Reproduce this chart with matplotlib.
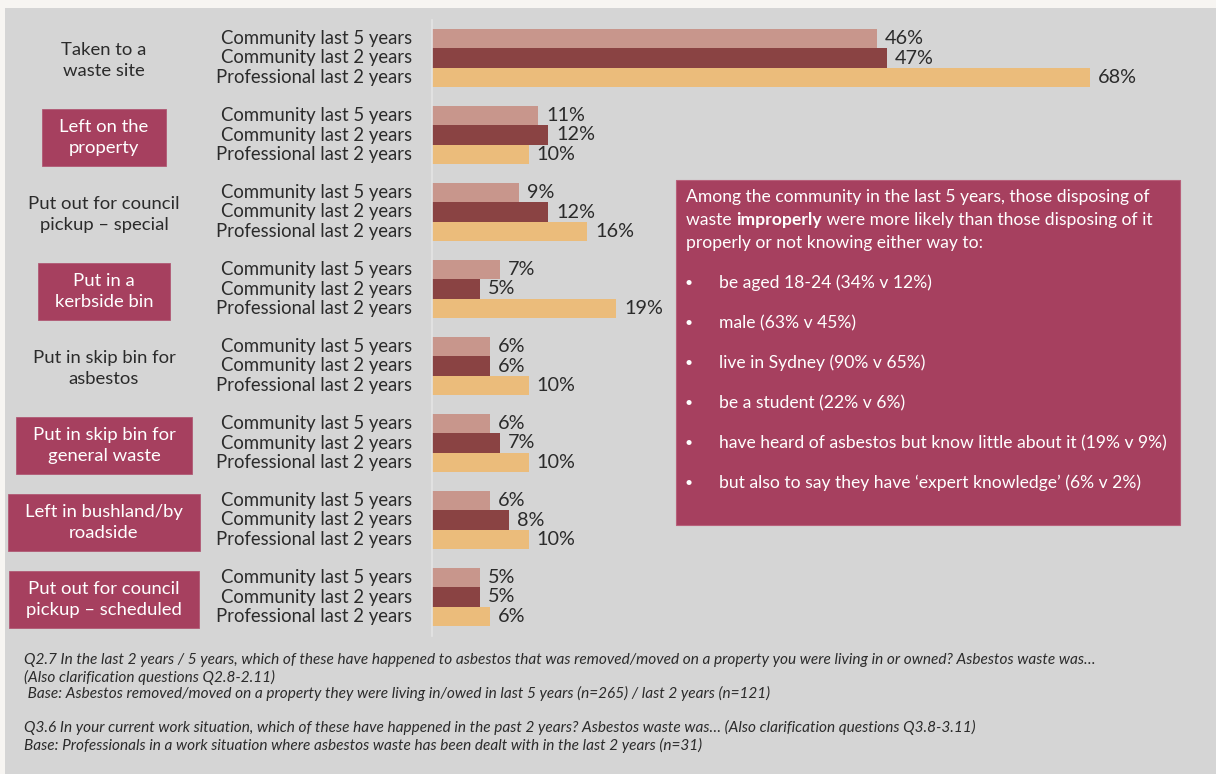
import matplotlib
matplotlib.use("Agg")
import matplotlib.pyplot as plt
import matplotlib.transforms as mtransforms
from matplotlib.patches import Rectangle

plt.rcParams['font.family'] = ['Lato', 'DejaVu Sans']

# disposal methods, top to bottom
categories = ["Taken to a\nwaste site", "Left on the\nproperty", "Put out for council\npickup – special",
              "Put in a\nkerbside bin", "Put in skip bin for\nasbestos", "Put in skip bin for\ngeneral waste",
              "Left in bushland/by\nroadside", "Put out for council\npickup – scheduled"]
highlighted = [False, True, False, True, False, True, True, True]

series_names = ["Community last 5 years", "Community last 2 years", "Professional last 2 years"]
community_5y = [46, 11, 9, 7, 6, 6, 6, 5]
community_2y = [47, 12, 12, 5, 6, 7, 8, 5]
professional_2y = [68, 10, 16, 19, 10, 10, 10, 6]
series_colors = ["#c8968c", "#8a4343", "#ebbc7b"]

callout_intro = ["Among the community in the last 5 years, those disposing of",
                 ("waste ", "improperly", " were more likely than those disposing of it"),
                 "properly or not knowing either way to:"]
callout_points = ["be aged 18-24 (34% v 12%)", "male (63% v 45%)", "live in Sydney (90% v 65%)",
                  "be a student (22% v 6%)", "have heard of asbestos but know little about it (19% v 9%)",
                  "but also to say they have \u2018expert knowledge\u2019 (6% v 2%)"]

footnotes = ["Q2.7 In the last 2 years / 5 years, which of these have happened to asbestos that was removed/moved on a property you were living in or owned? Asbestos waste was\u2026",
             "(Also clarification questions Q2.8-2.11)",
             " Base: Asbestos removed/moved on a property they were living in/owed in last 5 years (n=265) / last 2 years (n=121)",
             "Q3.6 In your current work situation, which of these have happened in the past 2 years? Asbestos waste was\u2026 (Also clarification questions Q3.8-3.11)",
             "Base: Professionals in a work situation where asbestos waste has been dealt with in the last 2 years (n=31)"]

W, H = 1216, 774
dark = "#2b2b2b"
crimson = "#a6405f"

fig = plt.figure(figsize=(W / 100, H / 100), dpi=100, facecolor="#f7f5f2")
renderer = fig.canvas.get_renderer()


def fx(px):
    return px / W


def fy(py):
    return 1 - py / H


# grey panel behind everything
fig.patches.append(Rectangle((fx(5), 0), 1 - fx(5), fy(8), transform=fig.transFigure,
                             facecolor="#d5d5d5", edgecolor="none", zorder=-5))

ax = fig.add_axes([fx(432), fy(635.5), 1 - fx(432), (635.5 - 19.5) / H])
ax.set_facecolor("none")
ax.set_xlim(0, 81)
ax.set_ylim(len(categories) - 0.5, -0.5)
for s in ["top", "right", "bottom"]:
    ax.spines[s].set_visible(False)
ax.spines["left"].set_color("#e4e4e4")
ax.spines["left"].set_linewidth(1.2)
ax.set_xticks([])
ax.set_yticks([])

bar_h = 0.25
all_series = [community_5y, community_2y, professional_2y]
label_tr = mtransforms.blended_transform_factory(fig.transFigure, ax.transData)
for i, cat in enumerate(categories):
    for k, vals in enumerate(all_series):
        y = i + (k - 1) * bar_h
        ax.barh(y, vals[i], height=bar_h, color=series_colors[k], edgecolor="none")
        ax.annotate(f"{vals[i]}%", (vals[i], y), xytext=(8, 0), textcoords="offset pixels",
                    ha="left", va="center", fontsize=14.3, color=dark)
        ax.text(fx(412), y, series_names[k], transform=label_tr, ha="right", va="center",
                fontsize=13.35, color=dark)
    t = ax.annotate(cat, (fx(104), i), xycoords=label_tr, xytext=(0, -2.5), textcoords="offset pixels",
                    ha="center", va="center", fontsize=13.3,
                    color="white" if highlighted[i] else dark, linespacing=1.4, zorder=3)
    if highlighted[i]:
        # boxed label: fixed height, text width plus side padding
        bb = t.get_window_extent(renderer=renderer)
        cx, cy = (bb.x0 + bb.x1) / 2, (bb.y0 + bb.y1) / 2
        bw, bh = bb.width + 34, 57
        fig.patches.append(Rectangle(((cx - bw / 2) / W, (cy - bh / 2) / H), bw / W, bh / H,
                                     transform=fig.transFigure, facecolor=crimson,
                                     edgecolor="#b05a74", linewidth=0.6, zorder=-1))

# callout panel
fig.patches.append(Rectangle((fx(676), fy(525)), fx(1180) - fx(676), (525 - 180) / H,
                             transform=fig.transFigure, facecolor=crimson, edgecolor="#b8607a",
                             linewidth=0.8, zorder=1))
fs_call = 12.6
ty = 197
for line in callout_intro:
    if isinstance(line, tuple):
        x = fx(686)
        for part, weight in zip(line, ["normal", "bold", "normal"]):
            t = fig.text(x, fy(ty), part, ha="left", va="center", fontsize=fs_call,
                         color="white", fontweight=weight, zorder=2)
            bb = t.get_window_extent(renderer=renderer)
            x = fx(bb.x1)
    else:
        fig.text(fx(686), fy(ty), line, ha="left", va="center", fontsize=fs_call,
                 color="white", zorder=2)
    ty += 23
ty = 283
for p in callout_points:
    fig.text(fx(689), fy(ty), "\u2022", ha="center", va="center", fontsize=10, color="white", zorder=2)
    fig.text(fx(719), fy(ty), p, ha="left", va="center", fontsize=fs_call, color="white", zorder=2)
    ty += 40

# question and base notes
for note, ny in zip(footnotes, [660, 677, 693, 727, 745]):
    fig.text(fx(24), fy(ny), note, ha="left", va="center", fontsize=11.1, style="italic",
             color=dark)

fig.savefig("out.png", dpi=100, facecolor=fig.get_facecolor())
